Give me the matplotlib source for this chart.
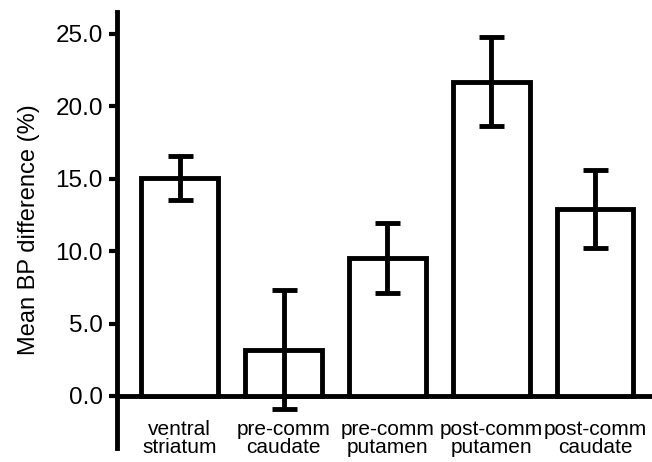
import numpy as np
import matplotlib.pyplot as plt

plt.rcParams['font.family'] = ['Liberation Sans', 'DejaVu Sans']

# donnees
regions = ["ventral\nstriatum", "pre-comm\ncaudate", "pre-comm\nputamen",
           "post-comm\nputamen", "post-comm\ncaudate"]
moyennes = [15.05, 3.2, 9.53, 21.7, 12.9]
erreurs = [1.5, 4.1, 2.44, 3.08, 2.7]
yticks = [0.0, 5.0, 10.0, 15.0, 20.0, 25.0]

x = np.arange(len(regions))

fig = plt.figure(figsize=(6.52, 4.62), dpi=100)
ax = fig.add_axes([0.179, 0.030, 0.821, 0.944])

ax.bar(x, moyennes, width=0.74, color="white", edgecolor="black",
       linewidth=3.5, zorder=2)
ax.errorbar(x, moyennes, yerr=erreurs, fmt="none", ecolor="black",
            elinewidth=3.5, capsize=9, capthick=3.5, zorder=3)

ax.set_xlim(-0.607, 4.55)
ax.set_ylim(-3.6, 26.5)

for s in ["top", "right"]:
    ax.spines[s].set_visible(False)
ax.spines["bottom"].set_position(("data", 0))
ax.spines["bottom"].set_linewidth(3.5)
ax.spines["left"].set_linewidth(3.5)
ax.spines["bottom"].set_zorder(1)

ax.set_yticks(yticks, ["%.1f" % v for v in yticks])
ax.tick_params(axis="y", length=6, width=3, labelsize=17.5, pad=4)
ax.set_xticks(x, regions)
ax.tick_params(axis="x", length=0, labelsize=15, pad=17)
for lab in ax.get_xticklabels():
    lab.set_linespacing(0.95)

ax.set_ylabel("Mean BP difference (%)", fontsize=17, labelpad=11)

fig.savefig("out.png", dpi=100)
